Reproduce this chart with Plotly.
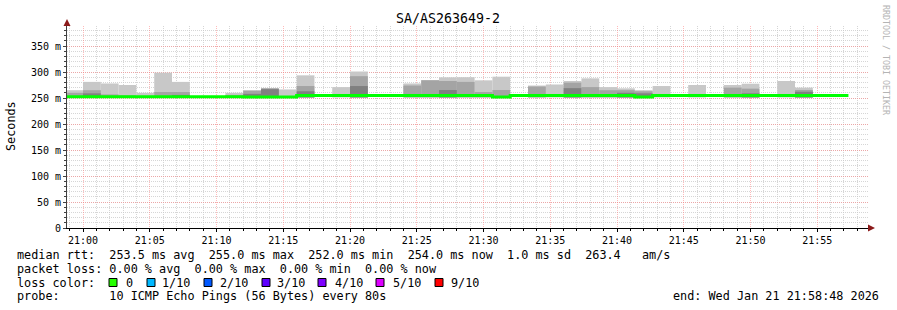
import plotly.graph_objects as go

# ---------------- data ----------------
step_start = [
    "2026-01-21 20:58:40", "2026-01-21 21:00:00", "2026-01-21 21:01:20", "2026-01-21 21:02:40",
    "2026-01-21 21:04:00", "2026-01-21 21:05:20", "2026-01-21 21:06:40", "2026-01-21 21:08:00",
    "2026-01-21 21:09:20", "2026-01-21 21:10:40", "2026-01-21 21:12:00", "2026-01-21 21:13:20",
    "2026-01-21 21:14:40", "2026-01-21 21:16:00", "2026-01-21 21:17:20", "2026-01-21 21:18:40",
    "2026-01-21 21:20:00", "2026-01-21 21:21:20", "2026-01-21 21:22:40", "2026-01-21 21:24:00",
    "2026-01-21 21:25:20", "2026-01-21 21:26:40", "2026-01-21 21:28:00", "2026-01-21 21:29:20",
    "2026-01-21 21:30:40", "2026-01-21 21:32:00", "2026-01-21 21:33:20", "2026-01-21 21:34:40",
    "2026-01-21 21:36:00", "2026-01-21 21:37:20", "2026-01-21 21:38:40", "2026-01-21 21:40:00",
    "2026-01-21 21:41:20", "2026-01-21 21:42:40", "2026-01-21 21:44:00", "2026-01-21 21:45:20",
    "2026-01-21 21:46:40", "2026-01-21 21:48:00", "2026-01-21 21:49:20", "2026-01-21 21:50:40",
    "2026-01-21 21:52:00", "2026-01-21 21:53:20", "2026-01-21 21:54:40", "2026-01-21 21:56:00",
]
last_step_end = "2026-01-21 21:57:20"

median_rtt = [
    252.5, 252.5, 252.5, 252.5, 252.5, 252.5, 252.5, 252.5, 252.5, 252.5,
    252.0, 252.0, 252.0,
    255.0, 255.0, 255.0, 255.0, 255.0, 255.0, 255.0, 255.0, 255.0, 255.0, 255.0,
    252.0,
    255.0, 255.0, 255.0, 255.0, 255.0, 255.0, 255.0,
    252.0,
    255.0, 255.0, 255.0, 255.0, 255.0, 255.0, 255.0, 255.0, 255.0, 255.0, 255.0,
]

smoke_min = [
    251, 251, 251, 251, 251, 251, 251, 251, 251, 251, 251,
    251, 251, 251, 251, 251, 251, 251, 251, 251, 251, 251,
    251, 251, 251, 251, 251, 251, 251, 251, 251, 251, 251,
    251, 251, 251, 251, 251, 251, 251, 251, 251, 251, 251,
]

smoke_outer = [
    265, 281, 278, 275, 260, 298.7, 281, None, None, 260, 265, 269, 266.5, 293.6,
    None, 271, 301, None, None, 278, 284.6, 289.8, 290, 284, 291, None, 274, 276,
    282.7, 287.8, 271, 268.6, 265, 273, None, 275, None, 275, 277.5, None, 282.7,
    270, None, None,
]
smoke_mid = [
    260, 265, 257, 255, None, 261.5, 261.5, None, None, 256, 264, 268.5, None, 273,
    None, None, 292, None, None, 274, 284, 282.7, 281, 261.5, 265.4, None, 272, None,
    279.5, 271, 265, 265, 263, None, None, None, None, 270, 268, None, None,
    265.4, None, None,
]
smoke_dark = [
    None, 259, None, None, None, None, 256, None, None, None, 258, 267, None, 263,
    None, None, 273, None, None, None, None, 265.4, None, None, None, None, None, None,
    269, None, None, 260, 259, None, None, None, None, None, 259, None, None,
    262, None, None,
]

y_tick_vals = [0, 50, 100, 150, 200, 250, 300, 350]
y_tick_text = ["0", "50 m", "100 m", "150 m", "200 m", "250 m", "300 m", "350 m"]

loss_labels = ["0", "1/10", "2/10", "3/10", "4/10", "5/10", "9/10"]
loss_colors = ["#26ff00", "#00b8ff", "#0059ff", "#5e00ff", "#7e00ff", "#dd00ff", "#ff0000"]

title_text = "SA/AS263649-2"
legend_line1 = "median rtt:  253.5 ms avg  255.0 ms max  252.0 ms min  254.0 ms now  1.0 ms sd  263.4   am/s"
legend_line2 = "packet loss: 0.00 % avg  0.00 % max  0.00 % min  0.00 % now"
legend_line3 = "loss color:"
legend_line4 = "probe:       10 ICMP Echo Pings (56 Bytes) every 80s"
end_text = "end: Wed Jan 21 21:58:48 2026"

# ---------------- layout geometry ----------------
W, H = 897, 310
L, R, T, B = 67, 868, 26, 228


def px(x):
    return (x - L) / (R - L)


def py(y):
    return (B - y) / (B - T)


MONO = "DejaVu Sans Mono"
STEP_MS = 80000
MAJOR_GRID = "rgba(255,120,120,0.5)"
MINOR_GRID = "rgba(200,200,200,0.75)"
DOTS = "1px,1px"

fig = go.Figure()


def layer(top, color):
    h = [None if (t is None) else t - b for t, b in zip(top, smoke_min)]
    fig.add_trace(go.Bar(
        x=step_start, y=h, base=smoke_min, offset=0, width=STEP_MS,
        marker=dict(color=color, line=dict(width=0)), hoverinfo="skip", showlegend=False,
    ))


layer(smoke_outer, "#c8c8c8")
layer(smoke_mid, "#a4a4a4")
layer(smoke_dark, "#808080")

fig.add_trace(go.Scatter(
    x=step_start + [last_step_end], y=median_rtt + [median_rtt[-1]],
    mode="lines", line=dict(color="#00ff00", width=3, shape="hv"),
    hoverinfo="skip", showlegend=False,
))

fig.update_layout(
    width=W, height=H,
    margin=dict(l=L, r=W - R, t=T, b=H - B, pad=0),
    paper_bgcolor="white", plot_bgcolor="white",
    barmode="overlay", showlegend=False,
    font=dict(family=MONO, size=10, color="black"),
)

fig.update_xaxes(
    type="date",
    range=["2026-01-21 20:58:48", "2026-01-21 21:58:48"],
    tick0="2026-01-21 21:00:00", dtick=300000, tickformat="%H:%M",
    showgrid=True, gridcolor=MAJOR_GRID, griddash=DOTS, gridwidth=1,
    showline=True, linecolor="black", linewidth=1,
    ticks="outside", ticklen=3, tickcolor="black",
    tickfont=dict(family=MONO, size=10, color="black"),
    zeroline=False,
    minor=dict(tick0="2026-01-21 21:00:00", dtick=60000, showgrid=True,
               gridcolor=MINOR_GRID, griddash=DOTS, gridwidth=1,
               ticks="outside", ticklen=2, tickcolor="black"),
)
fig.update_yaxes(
    range=[0, 388.5],
    tickmode="array", tickvals=y_tick_vals, ticktext=y_tick_text,
    showgrid=True, gridcolor=MAJOR_GRID, griddash=DOTS, gridwidth=1,
    showline=True, linecolor="#404040", linewidth=1,
    ticks="outside", ticklen=3, tickcolor="#404040",
    tickfont=dict(family=MONO, size=10, color="black"),
    zeroline=False,
    minor=dict(tick0=0, dtick=10, showgrid=True,
               gridcolor=MINOR_GRID, griddash=DOTS, gridwidth=1,
               ticks="outside", ticklen=2, tickcolor="#404040"),
)

ann = []


def text(x, y, s, size=11.8, anchor="left", color="black", angle=0):
    ann.append(dict(x=px(x), y=py(y), xref="paper", yref="paper", text=s.replace(" ", "\u00a0"),
                    showarrow=False, xanchor=anchor, yanchor="middle", textangle=angle,
                    font=dict(family=MONO, size=size, color=color)))


text(448, 19, title_text, size=13.3, anchor="center")
text(11, 126, "Seconds", size=11.8, anchor="center", angle=-90)
text(886, 60, "RRDTOOL / TOBI OETIKER", size=8.3, anchor="center", color="#b4b4b4", angle=90)

text(15, 255, legend_line1)
text(15, 268.5, legend_line2)
text(15, 282.5, legend_line3)
text(15, 296, legend_line4)
text(881, 296, end_text, anchor="right")

box_x = [109, 147, 204, 262, 318, 376, 435]
label_x = [124, 160, 218, 275, 333, 391, 449]
shapes = []
for bx, lx, lab, col in zip(box_x, label_x, loss_labels, loss_colors):
    shapes.append(dict(type="rect", xref="paper", yref="paper",
                       x0=px(bx), x1=px(bx + 8), y0=py(286.5), y1=py(278.5),
                       fillcolor=col, line=dict(color="black", width=1)))
    text(lx, 282.5, lab)

# axis arrows
shapes.append(dict(type="path", xref="paper", yref="paper",
                   path=f"M {px(63.5)} {py(26)} L {px(70.5)} {py(26)} L {px(67)} {py(19)} Z",
                   fillcolor="#8b1a1a", line=dict(width=0)))
shapes.append(dict(type="path", xref="paper", yref="paper",
                   path=f"M {px(868)} {py(224.5)} L {px(868)} {py(231.5)} L {px(875)} {py(228)} Z",
                   fillcolor="#8b1a1a", line=dict(width=0)))

fig.update_layout(annotations=ann, shapes=shapes)

fig.write_html("out.html")
